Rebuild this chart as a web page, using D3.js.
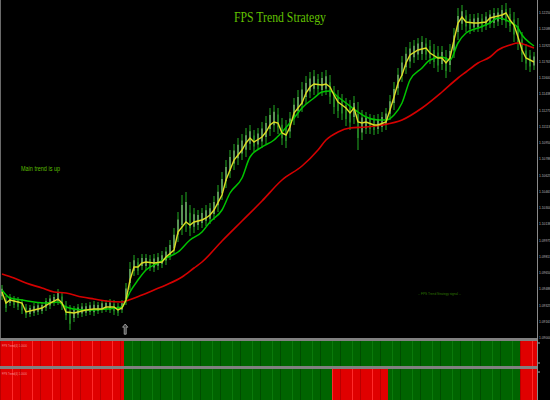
<!DOCTYPE html>
<html><head><meta charset="utf-8">
<script src="https://cdn.jsdelivr.net/npm/d3@7"></script>
<style>html,body{margin:0;padding:0;background:#000;overflow:hidden}</style>
</head><body><svg id="c" width="550" height="400"></svg>
<script>
// ---------- DATA ----------
const chartTitle = "FPS Trend Strategy";
const noteText = "Main trend is up";
const signalText = "-- FPS Trend Strategy signal --";
const panelLabel = "FPS Trend(4) 1.0000";

const barHigh = [1.0953,1.0942,1.0944,1.0942,1.0941,1.0939,1.0934,1.0933,1.0935,1.0936,
1.0936,1.0940,1.0943,1.0944,1.0949,1.0946,1.0937,1.0933,1.0932,1.0934,
1.0935,1.0935,1.0936,1.0937,1.0936,1.0938,1.0938,1.0939,1.0938,1.0935,
1.0938,1.0955,1.0976,1.0983,1.0980,1.0984,1.0984,1.0983,1.0984,1.0985,
1.0987,1.0991,1.0998,1.1010,1.1026,1.1043,1.1046,1.1033,1.1030,1.1028,
1.1030,1.1033,1.1035,1.1042,1.1053,1.1066,1.1078,1.1088,1.1094,1.1100,
1.1104,1.1110,1.1113,1.1108,1.1110,1.1116,1.1122,1.1130,1.1133,1.1130,
1.1120,1.1118,1.1126,1.1140,1.1148,1.1156,1.1162,1.1166,1.1168,1.1164,
1.1166,1.1168,1.1163,1.1152,1.1148,1.1144,1.1140,1.1138,1.1142,1.1136,
1.1128,1.1126,1.1124,1.1123,1.1124,1.1126,1.1130,1.1143,1.1156,1.1170,
1.1182,1.1191,1.1196,1.1198,1.1200,1.1202,1.1200,1.1198,1.1194,1.1192,
1.1192,1.1188,1.1194,1.1210,1.1230,1.1233,1.1228,1.1224,1.1224,1.1225,
1.1224,1.1226,1.1228,1.1230,1.1230,1.1233,1.1235,1.1230,1.1226,1.1220,
1.1206,1.1194,1.1188,1.1186];
const barLow = [1.0938,1.0926,1.0932,1.0930,1.0928,1.0924,1.0920,1.0921,1.0922,1.0923,
1.0924,1.0927,1.0929,1.0932,1.0933,1.0928,1.0918,1.0908,1.0916,1.0920,
1.0921,1.0922,1.0923,1.0922,1.0924,1.0925,1.0926,1.0925,1.0923,1.0922,
1.0925,1.0933,1.0948,1.0962,1.0963,1.0968,1.0968,1.0967,1.0966,1.0968,
1.0970,1.0973,1.0978,1.0983,1.0996,1.1003,1.1006,1.1002,1.1005,1.1008,
1.1010,1.1012,1.1014,1.1018,1.1026,1.1038,1.1050,1.1060,1.1068,1.1073,
1.1078,1.1081,1.1088,1.1086,1.1088,1.1090,1.1094,1.1102,1.1106,1.1104,
1.1093,1.1090,1.1100,1.1113,1.1120,1.1126,1.1134,1.1140,1.1143,1.1144,
1.1142,1.1143,1.1134,1.1124,1.1120,1.1118,1.1112,1.1108,1.1114,1.1088,
1.1098,1.1104,1.1104,1.1103,1.1104,1.1106,1.1108,1.1118,1.1128,1.1143,
1.1156,1.1164,1.1170,1.1175,1.1178,1.1178,1.1178,1.1174,1.1170,1.1166,
1.1168,1.1160,1.1166,1.1180,1.1198,1.1208,1.1206,1.1204,1.1206,1.1206,
1.1206,1.1208,1.1210,1.1210,1.1212,1.1213,1.1210,1.1206,1.1196,1.1188,
1.1176,1.1168,1.1166,1.1168];

// moving averages: [bar index, price]
const fastMA = [[0,1.0946],[1,1.0935],[2,1.0938],[4,1.0936],[5,1.0935],[6,1.0926],[8,1.0928],[10,1.0930],
[12,1.0935],[14,1.0939],[15,1.0935],[16,1.0926],[18,1.0925],[20,1.0927],[21,1.0928],[23,1.0929],
[25,1.0929],[26,1.0931],[28,1.0931],[29,1.0928],[30,1.0930],[31,1.0938],[32,1.0958],[33,1.0971],
[34,1.0971],[35,1.0975],[36,1.0976],[38,1.0975],[40,1.0976],[41,1.0981],[43,1.0988],[44,1.1006],
[46,1.1016],[47,1.1013],[48,1.1016],[50,1.1018],[51,1.1020],[52,1.1023],[53,1.1028],[55,1.1043],
[56,1.1058],[58,1.1078],[60,1.1088],[61,1.1095],[62,1.1100],[63,1.1096],[65,1.1101],[66,1.1106],
[67,1.1113],[68,1.1116],[69,1.1115],[70,1.1105],[71,1.1103],[72,1.1111],[73,1.1125],[75,1.1135],
[76,1.1145],[77,1.1151],[78,1.1154],[80,1.1153],[81,1.1154],[82,1.1151],[83,1.1143],[84,1.1136],
[85,1.1133],[86,1.1130],[87,1.1125],[88,1.1130],[89,1.1116],[90,1.1115],[91,1.1116],[93,1.1113],
[94,1.1113],[96,1.1116],[97,1.1128],[98,1.1141],[99,1.1155],[100,1.1163],[101,1.1175],[102,1.1183],
[104,1.1188],[105,1.1189],[106,1.1190],[107,1.1185],[109,1.1180],[110,1.1180],[111,1.1175],[112,1.1180],
[113,1.1198],[114,1.1215],[115,1.1221],[116,1.1216],[118,1.1215],[119,1.1215],[121,1.1216],[122,1.1220],
[124,1.1222],[125,1.1223],[126,1.1225],[127,1.1218],[128,1.1213],[129,1.1201],[130,1.1188],[131,1.1180],
[133,1.1176]];
const midMA = [[0,1.0948],[2,1.0940],[5,1.0938],[8,1.0936],[11,1.0935],[14,1.0936],[16,1.0931],[20,1.0928],
[23,1.0928],[26,1.0929],[30,1.0931],[31,1.0938],[32,1.0946],[34,1.0958],[36,1.0968],[39,1.0975],
[41,1.0980],[44,1.0986],[47,1.0998],[50,1.1006],[52,1.1016],[55,1.1028],[57,1.1045],[60,1.1060],
[62,1.1081],[65,1.1091],[68,1.1098],[70,1.1106],[73,1.1120],[75,1.1130],[78,1.1140],[80,1.1146],
[82,1.1147],[84,1.1141],[86,1.1135],[89,1.1126],[91,1.1121],[94,1.1118],[96,1.1118],[98,1.1123],
[100,1.1135],[102,1.1158],[105,1.1170],[107,1.1178],[110,1.1181],[112,1.1178],[114,1.1195],[116,1.1205],
[119,1.1210],[122,1.1215],[124,1.1220],[127,1.1216],[129,1.1210],[130,1.1203],[132,1.1195],[133,1.1192]];
const slowMA = [[0,1.0964],[3,1.0960],[6,1.0955],[10,1.0950],[13,1.0946],[16,1.0945],[20,1.0941],[23,1.0939],
[26,1.0937],[30,1.0936],[31,1.0937],[35,1.0943],[38,1.0948],[41,1.0953],[45,1.0961],[48,1.0970],
[50,1.0976],[55,1.0997],[60,1.1017],[65,1.1037],[70,1.1058],[75,1.1072],[79,1.1088],[81,1.1098],
[84,1.1106],[87,1.1110],[91,1.1111],[95,1.1113],[100,1.1118],[105,1.1130],[110,1.1146],[114,1.1160],
[116,1.1166],[119,1.1175],[122,1.1181],[124,1.1188],[127,1.1193],[129,1.1195],[131,1.1193],[133,1.1190]];

// trend histogram: runs of [direction, bar count]
const trend1Runs = [[-1,31],[1,99],[-1,4]];
const trend2Runs = [[-1,31],[1,52],[-1,14],[1,33],[-1,4]];

const signalBar = 30.8, signalPrice = 1.0923;

const priceTicks = ["1.09000","1.09163","1.09325","1.09488","1.09650","1.09813","1.09975","1.10138",
"1.10300","1.10463","1.10625","1.10788","1.10950","1.11113","1.11275","1.11438","1.11600","1.11763",
"1.11925","1.12088","1.12250"];

// ---------- DRAW ----------
const svg = d3.select("#c");
svg.append("rect").attr("width",550).attr("height",400).attr("fill","#000");

const plotRight = 537, plotBottom = 338;
const x = d3.scaleLinear().domain([0, 133]).range([2, 534]);
const y = d3.scaleLinear().domain([1.0900, 1.1238]).range([plotBottom, 0]);

const main = svg.append("g");
// candles
const mids = barHigh.map((h,i)=> (h+barLow[i])/2);
const cg = main.append("g");
barHigh.forEach((h,i)=>{
  const l = barLow[i];
  const up = i>0 ? mids[i] >= mids[i-1] : true;
  cg.append("line").attr("x1",x(i)).attr("x2",x(i)).attr("y1",y(h)).attr("y2",y(l))
    .attr("stroke","#1b7f1b").attr("stroke-width",1.6).attr("opacity",0.85);
  const r = h - l;
  cg.append("rect").attr("x",x(i)-0.8).attr("width",1.6)
    .attr("y",y(mids[i]+r*0.25)).attr("height",Math.max(1,y(mids[i]-r*0.25)-y(mids[i]+r*0.25)))
    .attr("fill", up ? "#a9d8a0" : "#2c8f2c").attr("opacity", up?0.6:0.85);
});

main.append("path").attr("fill","none").attr("stroke","#d40000").attr("stroke-width",1.6)
  .attr("d", d3.line().x(d=>x(d[0])).y(d=>y(d[1])).curve(d3.curveMonotoneX)(slowMA));
main.append("path").attr("fill","none").attr("stroke","#00c400").attr("stroke-width",1.5)
  .attr("d", d3.line().x(d=>x(d[0])).y(d=>y(d[1])).curve(d3.curveMonotoneX)(midMA));
main.append("path").attr("fill","none").attr("stroke","#dcdc26").attr("stroke-width",1.4)
  .attr("d", d3.line().x(d=>x(d[0])).y(d=>y(d[1])).curve(d3.curveLinear)(fastMA));

// signal arrow
const ax = x(signalBar), ay = y(signalPrice);
main.append("path")
  .attr("d", `M${ax},${ay+9} l-2.6,3.2 h1.6 v7 h2 v-7 h1.6 z`)
  .attr("fill","#404040").attr("stroke","#b0b0b0").attr("stroke-width",0.8);

// texts
svg.append("text").attr("x",280).attr("y",22).attr("text-anchor","middle")
  .attr("font-family","'Liberation Serif','DejaVu Serif',serif").attr("font-size",15)
  .attr("textLength",92).attr("lengthAdjust","spacingAndGlyphs")
  .attr("fill","#62c000").text(chartTitle);
svg.append("text").attr("x",21).attr("y",171)
  .attr("font-family","'Liberation Sans Narrow','Liberation Sans',sans-serif").attr("font-size",6.5)
  .attr("textLength",39).attr("lengthAdjust","spacingAndGlyphs")
  .attr("fill","#5cbf00").text(noteText);
svg.append("text").attr("x",418).attr("y",295)
  .attr("font-family","'Liberation Sans',sans-serif").attr("font-size",3.5)
  .attr("textLength",43).attr("lengthAdjust","spacingAndGlyphs")
  .attr("fill","#2f7a00").text(signalText);

// panels
function expand(runs){ const out=[]; runs.forEach(([d,n])=>{for(let k=0;k<n;k++) out.push(d);}); return out; }
const panels = [{vals:expand(trend1Runs), y0:341, y1:366}, {vals:expand(trend2Runs), y0:369, y1:400}];
panels.forEach((p)=>{
  const g = svg.append("g");
  p.vals.forEach((v,i)=>{
    const x0 = i===0 ? 0 : x(i)-2, x1 = i===p.vals.length-1 ? plotRight : x(i)+2;
    g.append("rect").attr("x",x0).attr("y",p.y0).attr("width",x1-x0).attr("height",p.y1-p.y0)
      .attr("fill", v>0 ? "#006400" : "#e00000");
    const shade = (i*7)%5;
    if (shade < 2) {
      g.append("line").attr("x1",x(i)-1.5).attr("x2",x(i)-1.5).attr("y1",p.y0).attr("y2",p.y1)
        .attr("stroke", v>0 ? (shade===0?"#004c00":"#0a7a0a") : (shade===0?"#b80000":"#ff2a2a"))
        .attr("stroke-width",1);
    }
  });
  g.append("text").attr("x",2).attr("y",p.y0+6)
    .attr("font-family","'Liberation Sans',sans-serif").attr("font-size",4)
    .attr("textLength",25).attr("lengthAdjust","spacingAndGlyphs")
    .attr("fill","rgba(255,255,255,0.55)").text(panelLabel);
});
// separators
svg.append("rect").attr("x",0).attr("y",338).attr("width",plotRight).attr("height",3).attr("fill","#808080");
svg.append("rect").attr("x",0).attr("y",366).attr("width",plotRight).attr("height",3).attr("fill","#808080");
svg.append("line").attr("x1",0.5).attr("x2",0.5).attr("y1",0).attr("y2",338).attr("stroke","#6a6a6a");

// right axis
svg.append("line").attr("x1",plotRight+0.5).attr("x2",plotRight+0.5).attr("y1",0).attr("y2",400)
  .attr("stroke","#8a8a8a").attr("stroke-width",1);
const tg = svg.append("g");
priceTicks.forEach(t=>{
  tg.append("text").attr("x",539).attr("y",y(+t)+1.2)
    .attr("font-family","'Liberation Sans Narrow','Liberation Sans',sans-serif").attr("font-size",3.3)
    .attr("fill","#b8b8b8").text(t);
});
[343,363,372].forEach(v=>{
  svg.append("line").attr("x1",538).attr("x2",540).attr("y1",v).attr("y2",v).attr("stroke","#aaa");
});
</script>
</body></html>
